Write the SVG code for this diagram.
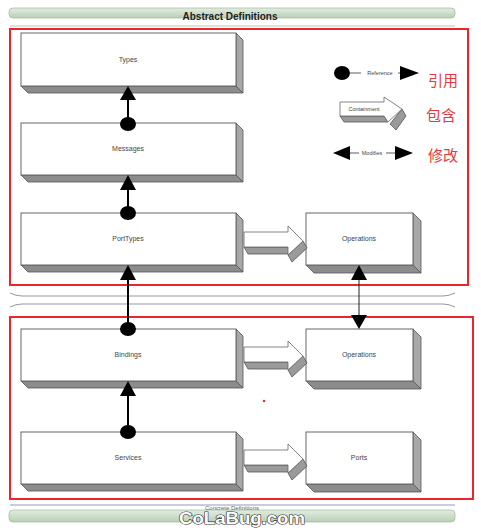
<svg xmlns="http://www.w3.org/2000/svg" width="481" height="530" viewBox="0 0 481 530">
<defs>
<style>
.front{fill:#fff;stroke:#666;stroke-width:1}
.side{fill:#a8a8a8;stroke:#555;stroke-width:0.8}
.bottom{fill:#8c8c8c;stroke:#555;stroke-width:0.8}
.lbl{font-family:"Liberation Sans",Arial,sans-serif;font-size:7px;fill:#444;text-anchor:middle}
.tiny{font-family:"Liberation Sans",Arial,sans-serif;font-size:5.5px;fill:#444;text-anchor:middle}
.red{font-family:"Noto Sans CJK SC",sans-serif;font-size:15px;fill:#e53a3d}
.redbox{fill:none;stroke:#e8262c;stroke-width:2}
.con{stroke:#000;stroke-width:2;fill:none}
.con1{stroke:#222;stroke-width:1;fill:none}
.blk{fill:#000}
.cw{fill:#fff;stroke:#666;stroke-width:0.8}
.cg{fill:#9a9a9a;stroke:#555;stroke-width:0.8}
</style>
<linearGradient id="gb" x1="0" y1="0" x2="0" y2="1">
<stop offset="0" stop-color="#e2eee0"/>
<stop offset="1" stop-color="#b9cfb5"/>
</linearGradient>
<g id="contain">
<polygon class="cg" points="0,15 44,15 48,22 4,22"/>
<polygon class="cg" points="59,9 63,16 48,30 44,23"/>
<polygon class="cw" points="0,0 44,0 44,-6 59,9 44,23 44,15 0,15"/>
</g>
</defs>

<!-- top band -->
<g id="band-top">
<rect x="9" y="8" width="446" height="10" rx="4" fill="url(#gb)" stroke="#a9bca6" stroke-width="0.8"/>
<text x="230" y="20" font-family="Liberation Sans,Arial,sans-serif" font-size="10" font-weight="bold" fill="#222" text-anchor="middle">Abstract Definitions</text>
<line x1="10" y1="26" x2="455" y2="26" stroke="#b8c4b8" stroke-width="1"/>
</g>

<rect class="redbox" x="10" y="29" width="458" height="256"/>
<rect class="redbox" x="10" y="317" width="463" height="182"/>

<!-- divider -->
<g id="divider" fill="none" stroke="#999" stroke-width="1">
<path d="M10,293 Q16,296 22,296 L443,296 Q449,296 455,293"/>
<path d="M10,307 Q16,304 22,304 L443,304 Q449,304 455,307"/>
</g>

<!-- nodes -->
<g id="types">
<polygon class="side" points="236,33 243,40 243,93 236,86"/>
<polygon class="bottom" points="21,86 236,86 243,93 28,93"/>
<rect class="front" x="21" y="33" width="215" height="53"/>
<text class="lbl" x="128" y="62">Types</text>
</g>
<g id="messages">
<polygon class="side" points="236,123 243,130 243,182 236,175"/>
<polygon class="bottom" points="21,175 236,175 243,182 28,182"/>
<rect class="front" x="21" y="123" width="215" height="52"/>
<text class="lbl" x="128" y="151">Messages</text>
</g>
<g id="porttypes">
<polygon class="side" points="236,213 243,220 243,272 236,265"/>
<polygon class="bottom" points="21,265 236,265 243,272 28,272"/>
<rect class="front" x="21" y="213" width="215" height="52"/>
<text class="lbl" x="128" y="241">PortTypes</text>
</g>
<g id="operations-abstract">
<polygon class="side" points="413,213 421,221 421,273 413,265"/>
<polygon class="bottom" points="306,265 413,265 421,273 314,273"/>
<rect class="front" x="306" y="213" width="107" height="52"/>
<text class="lbl" x="359" y="241">Operations</text>
</g>
<g id="bindings">
<polygon class="side" points="236,329 243,336 243,388 236,381"/>
<polygon class="bottom" points="21,381 236,381 243,388 28,388"/>
<rect class="front" x="21" y="329" width="215" height="52"/>
<text class="lbl" x="128" y="357">Bindings</text>
</g>
<g id="operations-concrete">
<polygon class="side" points="413,329 421,337 421,389 413,381"/>
<polygon class="bottom" points="306,381 413,381 421,389 314,389"/>
<rect class="front" x="306" y="329" width="107" height="52"/>
<text class="lbl" x="359" y="357">Operations</text>
</g>
<g id="services">
<polygon class="side" points="236,432 243,439 243,491 236,484"/>
<polygon class="bottom" points="21,484 236,484 243,491 28,491"/>
<rect class="front" x="21" y="432" width="215" height="52"/>
<text class="lbl" x="128" y="460">Services</text>
</g>
<g id="ports">
<polygon class="side" points="413,432 421,440 421,492 413,484"/>
<polygon class="bottom" points="306,484 413,484 421,492 314,492"/>
<rect class="front" x="306" y="432" width="107" height="52"/>
<text class="lbl" x="359" y="460">Ports</text>
</g>

<!-- connectors -->
<g id="connectors">
<line class="con" x1="128" y1="99" x2="128" y2="124"/>
<polygon class="blk" points="128,86 120,100 136,100"/>
<ellipse class="blk" cx="128" cy="124" rx="8" ry="7"/>

<line class="con" x1="128" y1="189" x2="128" y2="213"/>
<polygon class="blk" points="128,175 120,190 136,190"/>
<ellipse class="blk" cx="128" cy="213" rx="8" ry="7"/>

<line class="con" x1="128" y1="279" x2="128" y2="329"/>
<polygon class="blk" points="128,265 120,280 136,280"/>
<ellipse class="blk" cx="128" cy="329" rx="8" ry="7"/>

<line class="con" x1="128" y1="395" x2="128" y2="432"/>
<polygon class="blk" points="128,381 120,396 136,396"/>
<ellipse class="blk" cx="128" cy="432" rx="8" ry="7"/>

<line class="con1" x1="359" y1="279" x2="359" y2="315"/>
<polygon class="blk" points="359,265 351,280 367,280"/>
<polygon class="blk" points="359,329 351,315 367,315"/>

<use href="#contain" transform="translate(244,232)"/>
<use href="#contain" transform="translate(244,347)"/>
<use href="#contain" transform="translate(244,450)"/>
</g>

<!-- legend -->
<g id="legend">
<ellipse class="blk" cx="342" cy="73" rx="8" ry="7"/>
<line x1="350" y1="73" x2="401" y2="73" stroke="#333" stroke-width="0.8"/>
<rect x="361" y="69" width="37" height="7" fill="#fff"/>
<text class="tiny" x="380" y="75">Reference</text>
<polygon class="blk" points="400,66 400,80 419,73"/>
<text class="red" x="428" y="86">引用</text>

<polygon class="cg" points="340,116 384,116 388,122 344,122"/>
<polygon class="cg" points="402,109 406,116 396,130 390,124"/>
<polygon class="cw" points="340,102 384,102 384,97 402,109 388,122 384,116 340,116"/>
<text class="tiny" x="364" y="111">Containment</text>
<text class="red" x="426" y="121">包含</text>

<line x1="349" y1="153" x2="395" y2="153" stroke="#333" stroke-width="0.8"/>
<rect x="359" y="150" width="27" height="7" fill="#fff"/>
<text class="tiny" x="372" y="155">Modifies</text>
<polygon class="blk" points="333,153 350,146 350,160"/>
<polygon class="blk" points="413,153 395,146 395,160"/>
<text class="red" x="428" y="161">修改</text>
</g>

<circle cx="264" cy="401" r="1.2" fill="#e8262c"/>

<!-- bottom band -->
<g id="band-bottom">
<line x1="10" y1="505" x2="455" y2="505" stroke="#8d9bbd" stroke-width="1"/>
<rect x="9" y="510" width="446" height="12" rx="4" fill="url(#gb)" stroke="#a9bca6" stroke-width="0.8"/>
<text x="232" y="510" font-family="Liberation Sans,Arial,sans-serif" font-size="6" fill="#666" text-anchor="middle">Concrete Definitions</text>
<text x="242" y="524" font-family="Liberation Sans,Arial,sans-serif" font-size="17" font-weight="bold" fill="#fff" stroke="#333" stroke-width="1.2" paint-order="stroke" text-anchor="middle" textLength="126" lengthAdjust="spacingAndGlyphs">CoLaBug.com</text>
</g>
</svg>
